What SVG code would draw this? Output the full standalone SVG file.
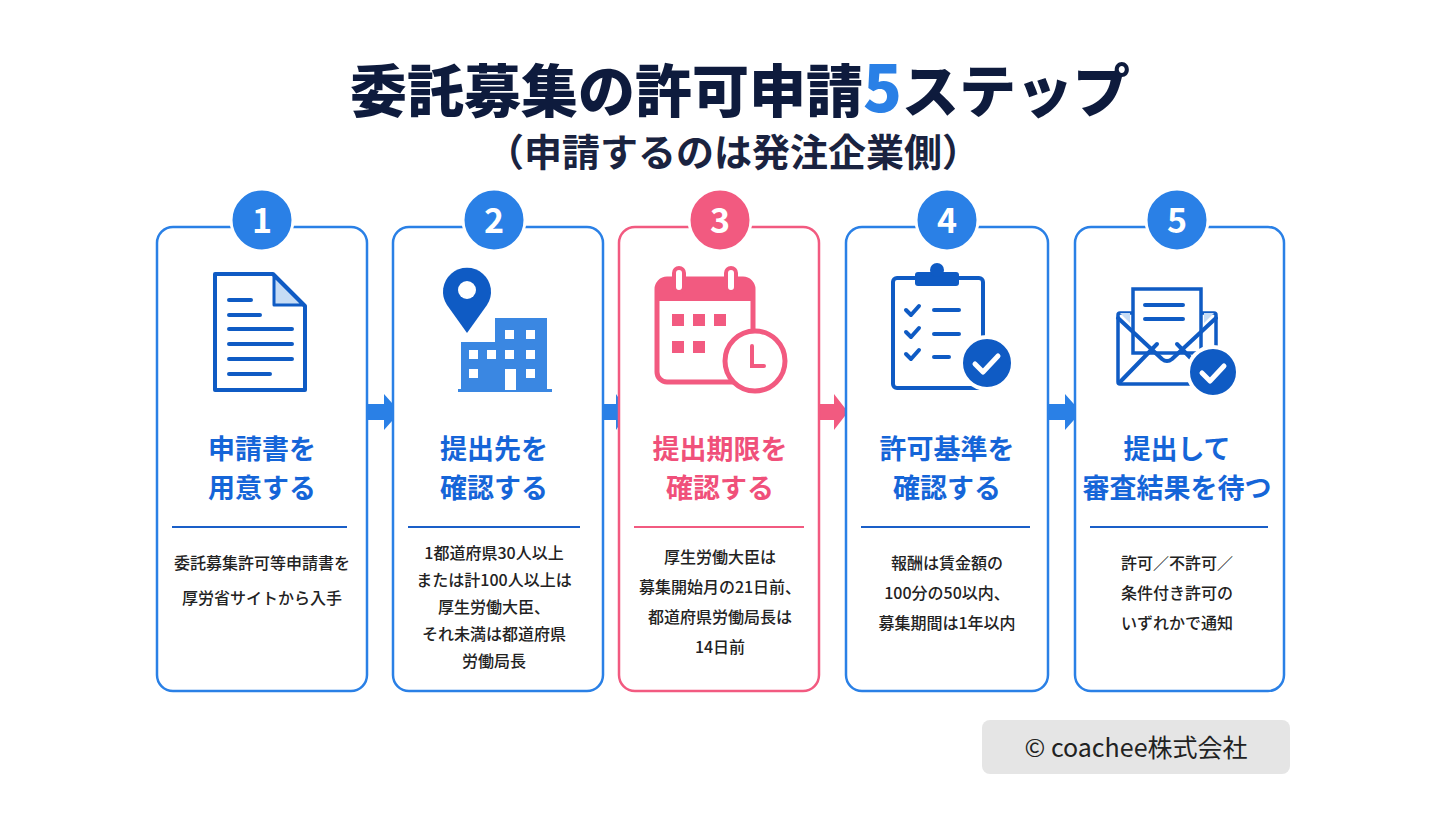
<svg xmlns="http://www.w3.org/2000/svg" width="1440" height="820" viewBox="0 0 1440 820">
<style>
text{font-family:"Noto Sans CJK JP","Noto Sans",sans-serif;text-anchor:middle}
.card{fill:#fff;stroke:#2a80e6;stroke-width:2.5}
.pk .card{stroke:#f25a80}
.num{fill:#2a80e6}
.pk .num{fill:#f25a80}
.nt{fill:#fff;font-size:34px;font-weight:700}
.tt{fill:#1565d8;font-size:27px;font-weight:700}
.pk .tt{fill:#f0507a}
.rule{stroke:#1a5fc8;stroke-width:2}
.pk .rule{stroke:#f25a80}
.bd{fill:#222;font-size:16px;font-weight:500}
.ic{fill:none;stroke:#0f5bc4;stroke-width:4;stroke-linecap:round;stroke-linejoin:round}
.arr{fill:#2a80e6}
</style>
<rect width="1440" height="820" fill="#fff"/>
<text x="740" y="112" font-size="57" font-weight="900" fill="#0e1b3d">委託募集の許可申請<tspan fill="#2a80e6" font-size="64">5</tspan>ステップ</text>
<text x="733" y="166" font-size="38" font-weight="700" fill="#1a2340">（申請するのは発注企業側）</text>

<g id="connectors">
<path class="arr" d="M368 404h16v-10l16 18-16 18v-10h-16z"/>
<path class="arr" d="M604 404h12v-10l12 18-12 18v-10h-12z"/>
<path d="M820 404h14v-10l14 18-14 18v-10h-14z" fill="#f25a80"/>
<path class="arr" d="M1049 404h16v-10l16 18-16 18v-10h-16z"/>
</g>

<g id="step1">
<rect class="card" x="157" y="227" width="210" height="464" rx="16"/>
<circle class="num" cx="262" cy="220" r="31" stroke="#fff" stroke-width="3"/>
<text class="nt" x="262" y="233">1</text>
<path d="M215 274h58l32 32v84h-90z" fill="#fff" stroke="#0f5bc4" stroke-width="4" stroke-linejoin="round"/>
<path d="M274 276v29h29z" fill="#c6dcf5" stroke="#0f5bc4" stroke-width="3" stroke-linejoin="round"/>
<path class="ic" stroke-width="3" d="M229 300h22M229 315h31M229 329h63M229 344h63M229 359h63M229 374h41"/>
<text class="tt" x="262" y="459">申請書を</text>
<text class="tt" x="262" y="498">用意する</text>
<line class="rule" x1="172" y1="527" x2="347" y2="527"/>
<text class="bd" x="262" y="569">委託募集許可等申請書を</text>
<text class="bd" x="262" y="604">厚労省サイトから入手</text>
</g>

<g id="step2">
<rect class="card" x="393" y="227" width="210" height="464" rx="16"/>
<circle class="num" cx="494" cy="220" r="31" stroke="#fff" stroke-width="3"/>
<text class="nt" x="494" y="233">2</text>
<path d="M467 333l-20-28a24 24 0 1 1 40 0z" fill="#0f5bc4"/>
<circle cx="467" cy="290" r="9" fill="#fff"/>
<g fill="#3a87e2"><rect x="495" y="318" width="52" height="73"/><rect x="461" y="342" width="40" height="49"/><rect x="458" y="389" width="94" height="3"/></g>
<g fill="#fff"><rect x="505" y="330" width="9" height="9"/><rect x="526" y="330" width="9" height="9"/><rect x="469" y="350" width="9" height="9"/><rect x="487" y="350" width="9" height="9"/><rect x="505" y="350" width="9" height="9"/><rect x="526" y="350" width="9" height="9"/><rect x="469" y="369" width="9" height="9"/><rect x="505" y="369" width="11" height="21"/><rect x="526" y="369" width="9" height="9"/></g>
<text class="tt" x="494" y="459">提出先を</text>
<text class="tt" x="494" y="498">確認する</text>
<line class="rule" x1="408" y1="527" x2="580" y2="527"/>
<text class="bd" x="494" y="559">1都道府県30人以上</text>
<text class="bd" x="494" y="586">または計100人以上は</text>
<text class="bd" x="494" y="613">厚生労働大臣、</text>
<text class="bd" x="494" y="640">それ未満は都道府県</text>
<text class="bd" x="494" y="667">労働局長</text>
</g>

<g id="step3" class="pk">
<rect class="card" x="619" y="227" width="200" height="464" rx="16"/>
<circle class="num" cx="720" cy="220" r="31" stroke="#fff" stroke-width="3"/>
<text class="nt" x="720" y="233">3</text>
<rect x="657" y="279" width="96" height="103" rx="10" fill="#fff" stroke="#f25a80" stroke-width="5"/>
<path d="M657 289a10 10 0 0 1 10-10h76a10 10 0 0 1 10 10v12h-96z" fill="#f25a80"/>
<rect x="674" y="268" width="10" height="24" rx="5" fill="#fff" stroke="#f25a80" stroke-width="4"/>
<rect x="726" y="268" width="10" height="24" rx="5" fill="#fff" stroke="#f25a80" stroke-width="4"/>
<g fill="#f25a80"><rect x="672" y="314" width="12" height="12"/><rect x="693" y="314" width="12" height="12"/><rect x="714" y="314" width="12" height="12"/><rect x="672" y="341" width="12" height="12"/><rect x="693" y="341" width="12" height="12"/></g>
<circle cx="755" cy="361" r="30" fill="#fff" stroke="#f25a80" stroke-width="5"/>
<path d="M752 346v20h12" fill="none" stroke="#f25a80" stroke-width="4" stroke-linecap="round"/>
<text class="tt" x="720" y="459">提出期限を</text>
<text class="tt" x="720" y="498">確認する</text>
<line class="rule" x1="634" y1="527" x2="804" y2="527"/>
<text class="bd" x="720" y="563">厚生労働大臣は</text>
<text class="bd" x="720" y="593">募集開始月の21日前、</text>
<text class="bd" x="720" y="623">都道府県労働局長は</text>
<text class="bd" x="720" y="653">14日前</text>
</g>

<g id="step4">
<rect class="card" x="846" y="227" width="202" height="464" rx="16"/>
<circle class="num" cx="947" cy="220" r="31" stroke="#fff" stroke-width="3"/>
<text class="nt" x="947" y="233">4</text>
<rect x="893" y="278" width="90" height="110" rx="4" fill="#fff" stroke="#0f5bc4" stroke-width="4"/>
<rect x="915" y="272" width="44" height="14" rx="3" fill="#0f5bc4"/>
<circle cx="937" cy="270" r="7" fill="#0f5bc4"/>
<path class="ic" stroke-width="3" d="M906 310l5 5 8-9M934 310h25M906 332l5 5 8-9M934 334h25M906 354l5 5 8-9M934 357h15"/>
<circle cx="987" cy="363" r="26" fill="#0f5bc4" stroke="#fff" stroke-width="4"/>
<path d="M975 364l8 8 15-16" fill="none" stroke="#fff" stroke-width="5" stroke-linecap="round" stroke-linejoin="round"/>
<text class="tt" x="947" y="459">許可基準を</text>
<text class="tt" x="947" y="498">確認する</text>
<line class="rule" x1="861" y1="527" x2="1030" y2="527"/>
<text class="bd" x="947" y="569">報酬は賃金額の</text>
<text class="bd" x="947" y="599">100分の50以内、</text>
<text class="bd" x="947" y="629">募集期間は1年以内</text>
</g>

<g id="step5">
<rect class="card" x="1075" y="227" width="209" height="464" rx="16"/>
<circle class="num" cx="1177" cy="220" r="31" stroke="#fff" stroke-width="3"/>
<text class="nt" x="1177" y="233">5</text>
<rect x="1118" y="313" width="98" height="71" rx="2" fill="#fff" stroke="#0f5bc4" stroke-width="3.5"/>
<path d="M1120 313l10 10v-10zM1214 313l-10 10v-10z" fill="#c6dcf5"/>
<rect x="1133" y="289" width="68" height="64" fill="#fff" stroke="#0f5bc4" stroke-width="3.5"/>
<path class="ic" stroke-width="3" d="M1145 305h38M1145 319h38"/>
<path class="ic" stroke-width="3.5" d="M1118 318l44 41q5 4 10 0l44-41M1120 382l37-38M1214 382l-37-38"/>
<circle cx="1213" cy="372" r="25" fill="#0f5bc4" stroke="#fff" stroke-width="4"/>
<path d="M1202 373l8 8 14-15" fill="none" stroke="#fff" stroke-width="5" stroke-linecap="round" stroke-linejoin="round"/>
<text class="tt" x="1177" y="459">提出して</text>
<text class="tt" x="1177" y="498">審査結果を待つ</text>
<line class="rule" x1="1090" y1="527" x2="1268" y2="527"/>
<text class="bd" x="1177" y="569">許可／不許可／</text>
<text class="bd" x="1177" y="599">条件付き許可の</text>
<text class="bd" x="1177" y="629">いずれかで通知</text>
</g>

<g id="credit">
<rect x="982" y="720" width="308" height="54" rx="8" fill="#e5e5e5"/>
<text x="1136" y="757" font-size="25" fill="#222">© coachee株式会社</text>
</g>
</svg>
